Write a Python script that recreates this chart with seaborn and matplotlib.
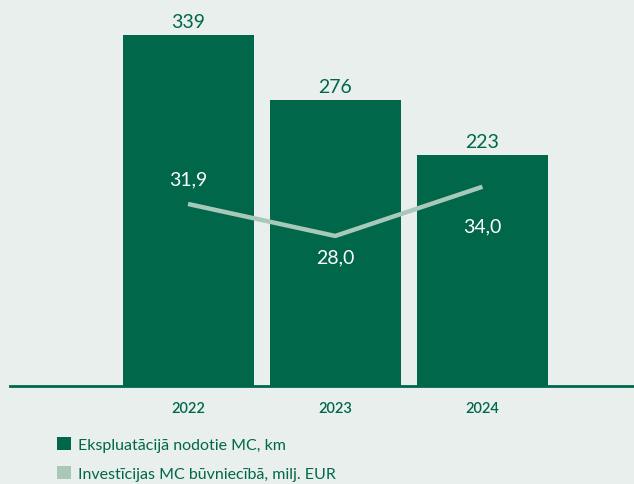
import matplotlib
matplotlib.use("Agg")
import matplotlib.pyplot as plt
from matplotlib.patches import Patch
import seaborn as sns

# Chart data
years = ["2022", "2023", "2024"]
km_commissioned = [339, 276, 223]
investments_meur = [31.9, 28.0, 34.0]
bar_label_name = "Ekspluatācijā nodotie MC, km"
line_label_name = "Investīcijas MC būvniecībā, milj. EUR"

# Colours
bg = "#e9efec"
dark_green = "#00674a"
light_green = "#a8c9b9"

sns.set_theme(style="white")
plt.rcParams["font.family"] = ["Lato", "DejaVu Sans"]

fig = plt.figure(figsize=(6.34, 4.85), dpi=100, facecolor=bg)
ax = fig.add_axes([10 / 634, 98 / 485, 624 / 634, 387 / 485])
ax.set_facecolor(bg)

sns.barplot(x=years, y=km_commissioned, color=dark_green, saturation=1,
            width=0.89, edgecolor="none", linewidth=0, ax=ax)
ax.set_xlim(-1.21, 3.03)
ax.set_ylim(0, 374)
for c in ax.containers:
    ax.bar_label(c, labels=[str(v) for v in km_commissioned], padding=4,
                 color=dark_green, fontsize=14)

for s in ["top", "right", "left"]:
    ax.spines[s].set_visible(False)
ax.spines["bottom"].set_color(dark_green)
ax.spines["bottom"].set_linewidth(2)
ax.set_yticks([])
ax.tick_params(axis="x", length=0, pad=11, labelsize=10.5, labelcolor=dark_green)
for t in ax.get_xticklabels():
    t.set_fontweight("semibold")
ax.set_xlabel("")
ax.set_ylabel("")

# Secondary axis for the investment line
ax2 = ax.twinx()
sns.lineplot(x=range(len(years)), y=investments_meur, color=light_green,
             linewidth=3.2, ax=ax2, solid_capstyle="butt")
ax2.set_ylim(9.7, 56.9)
ax2.set_yticks([])
for s in ax2.spines.values():
    s.set_visible(False)

offsets = [(0, 25), (0, -21), (0, -39)]
for i, (v, off) in enumerate(zip(investments_meur, offsets)):
    ax2.annotate(f"{v:.1f}".replace(".", ","), (i, v), xytext=off,
                 textcoords="offset pixels", ha="center", va="center",
                 color="white", fontsize=14)

handles = [Patch(facecolor=dark_green, edgecolor="none"),
           Patch(facecolor=light_green, edgecolor="none")]
fig.legend(handles, [bar_label_name, line_label_name], loc="upper left",
           bbox_to_anchor=(43 / 634, 1 - 424 / 485), frameon=False,
           fontsize=11.5, labelcolor=dark_green, handlelength=0.85,
           handleheight=0.85, handletextpad=0.45, labelspacing=0.85)

fig.savefig("out.png", dpi=100, facecolor=bg)
